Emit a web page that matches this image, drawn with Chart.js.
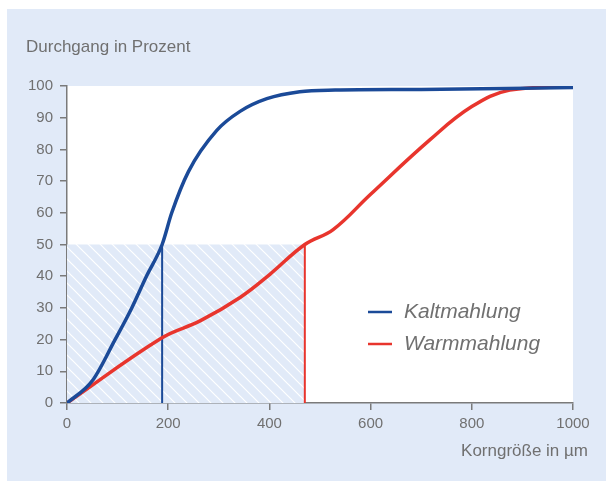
<!DOCTYPE html>
<html><head><meta charset="utf-8">
<script src="https://cdn.jsdelivr.net/npm/chart.js@4"></script>
<style>html,body{margin:0;padding:0;background:#fff;}#wrap{width:606px;height:481px;}</style>
</head><body><div id="wrap"><canvas id="c" width="606" height="481"></canvas></div>
<script>
const kaltX = [0, 50, 95, 128, 157, 188, 207, 240, 296, 342, 395, 460, 530, 700, 1000];
const kaltY = [0, 7, 20, 30, 40, 50, 60, 73, 86, 92, 96, 98.2, 98.7, 98.9, 99.5];
const warmX = [0, 187, 263, 342, 401, 470, 526, 599, 717, 800, 875, 1000];
const warmY = [0, 20.5, 25.9, 33.3, 40.6, 50, 54.7, 65.7, 83, 93.5, 98.7, 99.8];
const xTickLabels = ['0', '200', '400', '600', '800', '1000'];
const seriesNames = ['Kaltmahlung', 'Warmmahlung'];
const medianKalt = 188, medianWarm = 470, medianLevel = 50;
const yTitle = 'Durchgang in Prozent';
const xTitle = 'Korngröße in µm';

const BLUE = '#1b4a98', RED = '#e8352d', BG = '#e1eaf8', TXT = '#707070', AX = '#7a7a7a';
const FONT = '"Liberation Sans", Arial, sans-serif';

function pts(xs, ys){ return xs.map((x,i)=>({x:x, y:ys[i]})); }

// hatch pattern
const pc = document.createElement('canvas'); pc.width = 12; pc.height = 12;
const pg = pc.getContext('2d');
pg.fillStyle = BG; pg.fillRect(0,0,12,12);
pg.strokeStyle = '#ffffff'; pg.lineWidth = 1.2;
pg.beginPath(); pg.moveTo(-2,-2); pg.lineTo(14,14); pg.moveTo(-2,10); pg.lineTo(2,14); pg.moveTo(10,-2); pg.lineTo(14,2); pg.stroke();
const ctx0 = document.getElementById('c').getContext('2d');
const hatch = ctx0.createPattern(pc, 'repeat');

const bgPlugin = {
  id: 'bgp',
  beforeDraw(chart){
    const c = chart.ctx, a = chart.chartArea;
    c.save();
    c.fillStyle = '#fff'; c.fillRect(0,0,chart.width,chart.height);
    c.fillStyle = BG; c.fillRect(7,9,chart.width-7,chart.height-9);
    c.fillStyle = '#fff'; c.fillRect(a.left, a.top, a.right-a.left, a.bottom-a.top);
    c.restore();
  },
  afterDraw(chart){
    const c = chart.ctx;
    c.save();
    c.fillStyle = TXT; c.textBaseline = 'middle';
    c.font = '17px ' + FONT; c.textAlign = 'left';
    c.fillText(yTitle, 26, 47);
    c.font = '17px ' + FONT; c.textAlign = 'right';
    c.fillText(xTitle, 588, 451);
    // legend
    const items = [[seriesNames[0], BLUE, 312], [seriesNames[1], RED, 344]];
    c.font = 'italic 21px ' + FONT; c.textAlign = 'left';
    items.forEach(([t,col,y])=>{
      c.strokeStyle = col; c.lineWidth = 2.5;
      c.beginPath(); c.moveTo(368,y); c.lineTo(392,y); c.stroke();
      c.fillStyle = TXT; c.fillText(t, 404, y);
    });
    c.restore();
  }
};

new Chart(ctx0, {
  type: 'line',
  data: {
    datasets: [
      {label: seriesNames[0], data: pts(kaltX,kaltY), borderColor: BLUE, borderWidth: 3.5, pointRadius: 0, cubicInterpolationMode: 'monotone', fill: false},
      {label: seriesNames[1], data: pts(warmX,warmY), borderColor: RED, borderWidth: 3.5, pointRadius: 0, tension: 0.4, fill: false},
      {label: 'mk', data: [{x:medianKalt,y:0},{x:medianKalt,y:medianLevel}], borderColor: BLUE, borderWidth: 2, pointRadius: 0, fill: false},
      {label: 'mw', data: [{x:medianWarm,y:0},{x:medianWarm,y:medianLevel}], borderColor: RED, borderWidth: 2, pointRadius: 0, fill: false},
      {label: 'hatch', data: [{x:0,y:medianLevel},{x:medianWarm,y:medianLevel}], borderWidth: 0, borderColor: 'rgba(0,0,0,0)', backgroundColor: hatch, pointRadius: 0, fill: 'origin'}
    ]
  },
  options: {
    responsive: false, animation: false,
    layout: {padding: {left: 0, top: 86, right: 33, bottom: 48}},
    plugins: {legend: {display: false}, tooltip: {enabled: false}, title: {display: false}},
    scales: {
      x: {
        type: 'linear', min: 0, max: 1000,
        ticks: {stepSize: 200, color: TXT, font: {family: FONT, size: 15}, padding: 5,
          callback: (v, i) => xTickLabels[i]},
        grid: {drawOnChartArea: false, drawTicks: true, tickLength: 7, color: AX, lineWidth: 1.5},
        border: {color: AX, width: 1.5},
        afterFit(s){ s.height = 30; }
      },
      y: {
        type: 'linear', min: 0, max: 100,
        ticks: {stepSize: 10, color: TXT, font: {family: FONT, size: 15}, padding: 7},
        grid: {drawOnChartArea: false, drawTicks: true, tickLength: 7, color: AX, lineWidth: 1.5},
        border: {color: AX, width: 1.5},
        afterFit(s){ s.width = 67; }
      }
    }
  },
  plugins: [bgPlugin]
});
</script></body></html>
